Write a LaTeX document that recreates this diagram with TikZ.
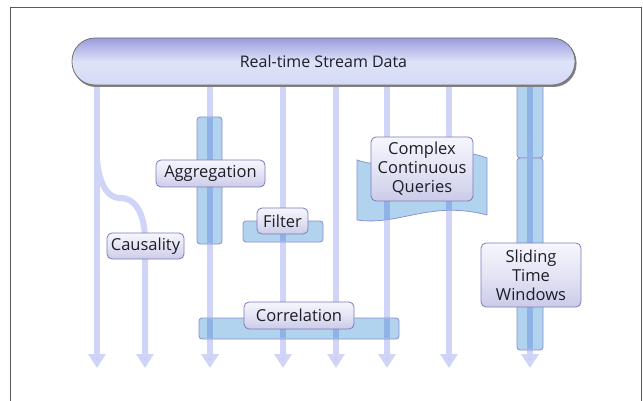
\documentclass[tikz,border=0pt]{standalone}
\usepackage{fontspec}
\setmainfont{Open Sans}
\usetikzlibrary{arrows.meta}
\definecolor{flow}{HTML}{D0D4F6}
\definecolor{flowtip}{HTML}{CDCDEF}
\definecolor{barfill}{HTML}{B2D3EE}
\definecolor{barline}{HTML}{8C8CD0}
\definecolor{stripe}{HTML}{8FB3E6}
\definecolor{boxtop}{HTML}{F6F6FD}
\definecolor{boxmid}{HTML}{E4E4F5}
\definecolor{boxbot}{HTML}{CBCBE8}
\definecolor{boxline}{HTML}{7A7ABE}
\definecolor{txt}{HTML}{1E1E28}
\definecolor{bantop}{HTML}{9A9CDC}
\definecolor{banmid}{HTML}{DDE3F8}
\definecolor{banbot}{HTML}{D4DAF5}
\begin{document}
\begin{tikzpicture}[x=1pt,y=1pt,
  flowline/.style={draw=flow,line width=6pt,-{Triangle[width=17pt,length=14pt,fill=flowtip]}},
  barshape/.style={fill=barfill,draw=barline,line width=0.8pt,rounded corners=3pt},
  stripeline/.style={draw=stripe,line width=6pt},
  label/.style={rounded corners=5pt,draw=boxline,line width=0.8pt,
    top color=boxtop,bottom color=boxbot,middle color=boxmid,
    text=txt,font=\fontsize{16.5}{19}\selectfont,inner sep=0pt,align=center},
]
\useasboundingbox (0,0) rectangle (643,-401);
\draw[black!65,line width=1pt] (10,-402) -- (10,-8) -- (641,-8) -- (641,-402);

\path (323.5,-61.5) coordinate (topc);
\coordinate (e1) at (97,-368);
\coordinate (e2) at (145,-368);
\coordinate (e3) at (210,-368);
\coordinate (e4) at (283,-368);
\coordinate (e5) at (336,-368);
\coordinate (e6) at (387,-368);
\coordinate (e7) at (449,-368);
\coordinate (e8) at (530,-368);

% flow lines
\draw[flowline] (e1 |- topc) -- (e1);
\draw[flowline] (97,-155) to[out=-90,in=180,looseness=0.9] (120,-198) to[out=0,in=90] (145,-240) -- (e2);
\draw[flowline] (e3 |- topc) -- (e3);
\draw[flowline] (e4 |- topc) -- (e4);
\draw[flowline] (e5 |- topc) -- (e5);
\draw[flowline] (e6 |- topc) -- (e6);
\draw[flowline] (e7 |- topc) -- (e7);
\draw[flowline] (e8 |- topc) -- (e8);

% bars
\draw[barshape] (197,-117) rectangle (222,-244);
\draw[stripeline] (210,-118) -- (210,-243);
\draw[barshape] (243,-221) rectangle (323,-242);
\draw[stripeline] (283,-222) -- (283,-241);
\draw[barshape] (199,-318) rectangle (399,-339);
\foreach \xx in {210,283,336,387} \draw[stripeline] (\xx,-319) -- (\xx,-338);
\draw[barshape] (517,-80) rectangle (543,-158);
\draw[barshape] (517,-158) rectangle (543,-350);
\draw[stripeline] (530,-86) -- (530,-157.5);
\draw[stripeline] (530,-158.5) -- (530,-349);
% queries flag
\draw[fill=barfill,draw=barline!80!stripe,line width=0.8pt]
  (357,-160) .. controls (400,-175) and (440,-140) .. (487,-158) -- (487,-215)
  .. controls (430,-200) and (400,-226) .. (357,-220) -- cycle;
\begin{scope}
\clip (357,-160) .. controls (400,-175) and (440,-140) .. (487,-158) -- (487,-215)
  .. controls (430,-200) and (400,-226) .. (357,-220) -- cycle;
\draw[stripeline] (387,-140) -- (387,-230);
\draw[stripeline] (449,-140) -- (449,-230);
\end{scope}

% labels
\node[label,minimum width=77pt,minimum height=26pt] (caus) at (145.5,-246) {Causality};
\node[label,minimum width=109pt,minimum height=27pt] (aggr) at (210.5,-173.5) {Aggregation};
\node[label,minimum width=51pt,minimum height=26pt] (filt) at (282.5,-221) {Filter};
\node[label,minimum width=110pt,minimum height=27pt] (corr) at (299,-315.5) {Correlation};
\node[label,minimum width=102pt,minimum height=64pt] (ccq) at (422,-169) {Complex\\Continuous\\Queries};
\node[label,minimum width=100pt,minimum height=64pt] (stw) at (531,-275) {Sliding\\Time\\Windows};

% top banner
\fill[black!50,rounded corners=23pt] (73,-39.5) rectangle (576.5,-87);
\node[rounded corners=23pt,draw=black!55,line width=0.8pt,minimum width=503pt,minimum height=47pt,
  inner sep=0pt,top color=bantop,bottom color=banbot,middle color=banmid,text=txt,font=\fontsize{16}{18}\selectfont]
  (top) at (topc) {Real-time Stream Data};
\end{tikzpicture}
\end{document}
